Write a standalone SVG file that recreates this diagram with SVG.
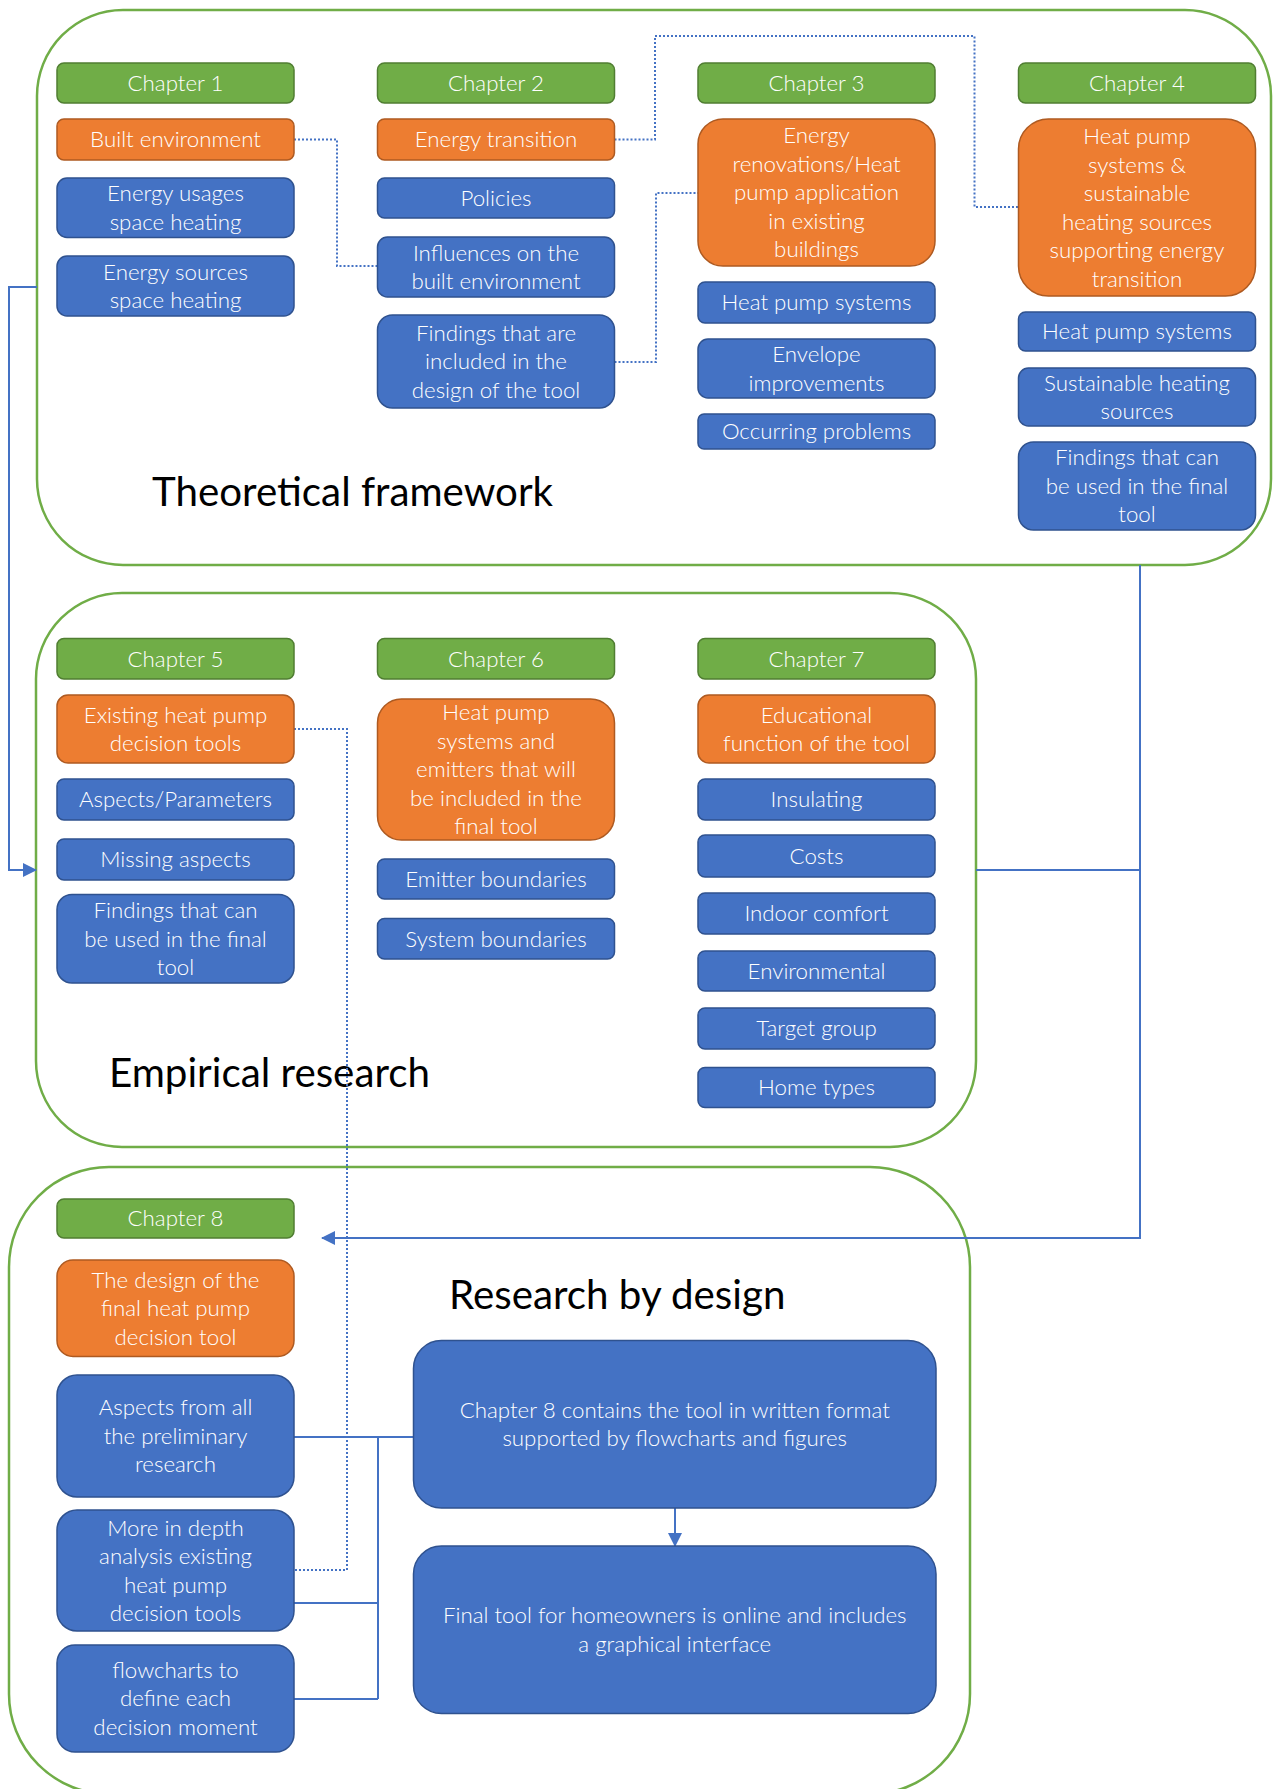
<svg xmlns="http://www.w3.org/2000/svg" width="1273" height="1789" viewBox="0 0 1273 1789">
<style>
.c{fill:#fff;stroke:#70AD47;stroke-width:2.5}
.g{fill:#70AD47;stroke:#507E32;stroke-width:1.5}
.o{fill:#ED7D31;stroke:#AE5A21;stroke-width:1.5}
.b{fill:#4472C4;stroke:#2F528F;stroke-width:1.5}
.t{font-family:Lato,"Open Sans",sans-serif;font-size:22.3px;font-weight:300;fill:#fff;text-anchor:middle}
.h{font-family:Lato,"Open Sans",sans-serif;font-size:40.3px;fill:#000}
.ln{fill:none;stroke:#4472C4;stroke-width:2}
.dt{fill:none;stroke:#4472C4;stroke-width:2;stroke-dasharray:2 2}
</style>
<defs>
<marker id="ah" markerWidth="14" markerHeight="14" refX="13" refY="7" orient="auto" markerUnits="userSpaceOnUse">
<path d="M0,0 L14,7 L0,14 Z" fill="#4472C4"/>
</marker>
</defs>
<g id="containers">
<g id="theoretical-framework"><rect class="c" x="37" y="10" width="1234" height="555" rx="86"/><text class="h" x="152" y="506">Theoretical framework</text></g>
<g id="empirical-research"><rect class="c" x="36" y="593" width="940" height="554" rx="86"/><text class="h" x="109" y="1087">Empirical research</text></g>
<g id="research-by-design"><rect class="c" x="9" y="1167" width="961" height="627" rx="100"/><text class="h" x="449" y="1309">Research by design</text></g>
</g>
<g id="connectors">
<path class="dt" d="M294,139.5 H337 V266 H377.5"/>
<path class="dt" d="M614.5,139.5 H655 V36 H974.5 V207 H1018.5"/>
<path class="dt" d="M614.5,362 H656 V193 H698"/>
<path class="dt" d="M294,729 H347 V1570 H294"/>
<path class="ln" d="M37,287 H9 V870 H36" marker-end="url(#ah)"/>
<path class="ln" d="M1140,565 V1238 H322" marker-end="url(#ah)"/>
<path class="ln" d="M976,870 H1140"/>
<path class="ln" d="M675,1508 V1546" marker-end="url(#ah)"/>
<path class="ln" d="M294,1437 H413.5 M294,1603 H378 M294,1699 H378 M378,1437 V1699"/>
</g>
<g id="ch1"><rect class="g" x="57" y="63" width="237" height="40" rx="7"/><text class="t" x="175.5" y="90.7">Chapter 1</text></g>
<g id="built-environment"><rect class="o" x="57" y="119" width="237" height="41" rx="7"/><text class="t" x="175.5" y="147.2">Built environment</text></g>
<g id="energy-usages"><rect class="b" x="57" y="178" width="237" height="59.5" rx="10"/><text class="t" x="175.5" y="201.2">Energy usages</text><text class="t" x="175.5" y="229.7">space heating</text></g>
<g id="energy-sources"><rect class="b" x="57" y="256" width="237" height="60" rx="10"/><text class="t" x="175.5" y="279.5">Energy sources</text><text class="t" x="175.5" y="308">space heating</text></g>
<g id="ch2"><rect class="g" x="377.5" y="63" width="237" height="40" rx="7"/><text class="t" x="496" y="90.7">Chapter 2</text></g>
<g id="energy-transition"><rect class="o" x="377.5" y="119" width="237" height="41" rx="7"/><text class="t" x="496" y="147.2">Energy transition</text></g>
<g id="policies"><rect class="b" x="377.5" y="178" width="237" height="40" rx="7"/><text class="t" x="496" y="205.7">Policies</text></g>
<g id="influences"><rect class="b" x="377.5" y="237" width="237" height="60" rx="10"/><text class="t" x="496" y="260.5">Influences on the</text><text class="t" x="496" y="289">built environment</text></g>
<g id="findings-ch2"><rect class="b" x="377.5" y="315" width="237" height="93" rx="15"/><text class="t" x="496" y="340.7">Findings that are</text><text class="t" x="496" y="369.2">included in the</text><text class="t" x="496" y="397.7">design of the tool</text></g>
<g id="ch3"><rect class="g" x="698" y="63" width="237" height="40" rx="7"/><text class="t" x="816.5" y="90.7">Chapter 3</text></g>
<g id="energy-renovations"><rect class="o" x="698" y="119" width="237" height="147" rx="25"/><text class="t" x="816.5" y="143.2">Energy</text><text class="t" x="816.5" y="171.7">renovations/Heat</text><text class="t" x="816.5" y="200.2">pump application</text><text class="t" x="816.5" y="228.7">in existing</text><text class="t" x="816.5" y="257.2">buildings</text></g>
<g id="hps-ch3"><rect class="b" x="698" y="282" width="237" height="41" rx="7"/><text class="t" x="816.5" y="310.2">Heat pump systems</text></g>
<g id="envelope"><rect class="b" x="698" y="339" width="237" height="59" rx="10"/><text class="t" x="816.5" y="362">Envelope</text><text class="t" x="816.5" y="390.5">improvements</text></g>
<g id="occurring"><rect class="b" x="698" y="414" width="237" height="35" rx="6"/><text class="t" x="816.5" y="439.2">Occurring problems</text></g>
<g id="ch4"><rect class="g" x="1018.5" y="63" width="237" height="40" rx="7"/><text class="t" x="1137" y="90.7">Chapter 4</text></g>
<g id="hp-sustainable"><rect class="o" x="1018.5" y="119" width="237" height="177" rx="30"/><text class="t" x="1137" y="144">Heat pump</text><text class="t" x="1137" y="172.5">systems &amp;</text><text class="t" x="1137" y="201">sustainable</text><text class="t" x="1137" y="229.5">heating sources</text><text class="t" x="1137" y="258">supporting energy</text><text class="t" x="1137" y="286.5">transition</text></g>
<g id="hps-ch4"><rect class="b" x="1018.5" y="312" width="237" height="39" rx="7"/><text class="t" x="1137" y="339.2">Heat pump systems</text></g>
<g id="sustainable"><rect class="b" x="1018.5" y="368" width="237" height="58" rx="10"/><text class="t" x="1137" y="390.5">Sustainable heating</text><text class="t" x="1137" y="419">sources</text></g>
<g id="findings-ch4"><rect class="b" x="1018.5" y="442" width="237" height="88" rx="15"/><text class="t" x="1137" y="465.2">Findings that can</text><text class="t" x="1137" y="493.7">be used in the final</text><text class="t" x="1137" y="522.2">tool</text></g>
<g id="ch5"><rect class="g" x="57" y="638.5" width="237" height="40.5" rx="7"/><text class="t" x="175.5" y="666.5">Chapter 5</text></g>
<g id="existing-tools"><rect class="o" x="57" y="695" width="237" height="68" rx="11"/><text class="t" x="175.5" y="722.5">Existing heat pump</text><text class="t" x="175.5" y="751">decision tools</text></g>
<g id="aspects-parameters"><rect class="b" x="57" y="779" width="237" height="41" rx="7"/><text class="t" x="175.5" y="807.2">Aspects/Parameters</text></g>
<g id="missing"><rect class="b" x="57" y="839" width="237" height="41" rx="7"/><text class="t" x="175.5" y="867.2">Missing aspects</text></g>
<g id="findings-ch5"><rect class="b" x="57" y="894.5" width="237" height="88.5" rx="15"/><text class="t" x="175.5" y="918">Findings that can</text><text class="t" x="175.5" y="946.5">be used in the final</text><text class="t" x="175.5" y="975">tool</text></g>
<g id="ch6"><rect class="g" x="377.5" y="638.5" width="237" height="40.5" rx="7"/><text class="t" x="496" y="666.5">Chapter 6</text></g>
<g id="hp-emitters"><rect class="o" x="377.5" y="699" width="237" height="141" rx="24"/><text class="t" x="496" y="720.2">Heat pump</text><text class="t" x="496" y="748.7">systems and</text><text class="t" x="496" y="777.2">emitters that will</text><text class="t" x="496" y="805.7">be included in the</text><text class="t" x="496" y="834.2">final tool</text></g>
<g id="emitter-boundaries"><rect class="b" x="377.5" y="859" width="237" height="40" rx="7"/><text class="t" x="496" y="886.7">Emitter boundaries</text></g>
<g id="system-boundaries"><rect class="b" x="377.5" y="918.5" width="237" height="40.5" rx="7"/><text class="t" x="496" y="946.5">System boundaries</text></g>
<g id="ch7"><rect class="g" x="698" y="638.5" width="237" height="40.5" rx="7"/><text class="t" x="816.5" y="666.5">Chapter 7</text></g>
<g id="educational"><rect class="o" x="698" y="695" width="237" height="68" rx="11"/><text class="t" x="816.5" y="722.5">Educational</text><text class="t" x="816.5" y="751">function of the tool</text></g>
<g id="insulating"><rect class="b" x="698" y="779" width="237" height="41" rx="7"/><text class="t" x="816.5" y="807.2">Insulating</text></g>
<g id="costs"><rect class="b" x="698" y="835" width="237" height="42" rx="7"/><text class="t" x="816.5" y="863.7">Costs</text></g>
<g id="indoor-comfort"><rect class="b" x="698" y="893" width="237" height="41" rx="7"/><text class="t" x="816.5" y="921.2">Indoor comfort</text></g>
<g id="environmental"><rect class="b" x="698" y="951" width="237" height="40" rx="7"/><text class="t" x="816.5" y="978.7">Environmental</text></g>
<g id="target-group"><rect class="b" x="698" y="1008" width="237" height="41" rx="7"/><text class="t" x="816.5" y="1036.2">Target group</text></g>
<g id="home-types"><rect class="b" x="698" y="1067.5" width="237" height="40" rx="7"/><text class="t" x="816.5" y="1095.2">Home types</text></g>
<g id="ch8"><rect class="g" x="57" y="1199" width="237" height="39" rx="7"/><text class="t" x="175.5" y="1226.2">Chapter 8</text></g>
<g id="design-tool"><rect class="o" x="57" y="1260" width="237" height="96.5" rx="16"/><text class="t" x="175.5" y="1287.5">The design of the</text><text class="t" x="175.5" y="1316">final heat pump</text><text class="t" x="175.5" y="1344.5">decision tool</text></g>
<g id="aspects-all"><rect class="b" x="57" y="1375" width="237" height="122" rx="20"/><text class="t" x="175.5" y="1415.2">Aspects from all</text><text class="t" x="175.5" y="1443.7">the preliminary</text><text class="t" x="175.5" y="1472.2">research</text></g>
<g id="in-depth"><rect class="b" x="57" y="1510" width="237" height="121" rx="20"/><text class="t" x="175.5" y="1535.5">More in depth</text><text class="t" x="175.5" y="1564">analysis existing</text><text class="t" x="175.5" y="1592.5">heat pump</text><text class="t" x="175.5" y="1621">decision tools</text></g>
<g id="flowcharts"><rect class="b" x="57" y="1645" width="237" height="107" rx="18"/><text class="t" x="175.5" y="1677.7">flowcharts to</text><text class="t" x="175.5" y="1706.2">define each</text><text class="t" x="175.5" y="1734.7">decision moment</text></g>
<g id="written-tool"><rect class="b" x="413.5" y="1340.5" width="522.5" height="167.5" rx="28"/><text class="t" x="674.75" y="1417.7">Chapter 8 contains the tool in written format</text><text class="t" x="674.75" y="1446.2">supported by flowcharts and figures</text></g>
<g id="final-tool"><rect class="b" x="413.5" y="1546" width="522.5" height="167.5" rx="28"/><text class="t" x="674.75" y="1623.2">Final tool for homeowners is online and includes</text><text class="t" x="674.75" y="1651.7">a graphical interface</text></g>
</svg>
